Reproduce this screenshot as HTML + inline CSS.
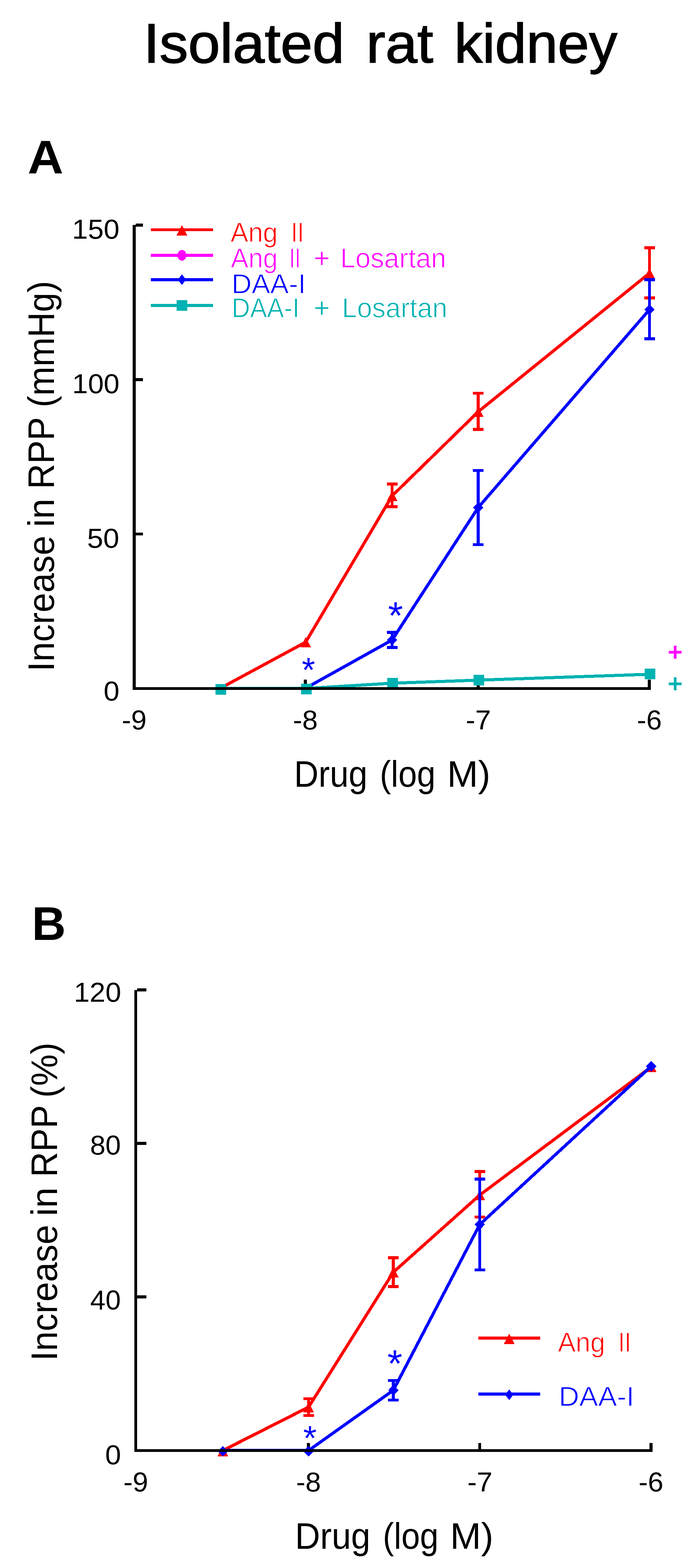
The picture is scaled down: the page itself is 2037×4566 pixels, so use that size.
<!DOCTYPE html>
<html><head><meta charset="utf-8"><title>Isolated rat kidney</title>
<style>
html,body{margin:0;padding:0;background:#fff;}
svg{display:block;}
text{font-family:'Liberation Sans', Arial, sans-serif;}
</style></head>
<body>
<svg width="2037" height="4566" viewBox="0 0 2037 4566" shape-rendering="crispEdges">
<rect width="2037" height="4566" fill="#fff"/>
<g stroke="#000" stroke-width="2.5">
<text x="417.7" y="182.0" font-size="161" font-weight="400" fill="#000" textLength="584.4" lengthAdjust="spacingAndGlyphs">Isolated</text>
<text x="1065.8" y="182.0" font-size="161" font-weight="400" fill="#000" textLength="194.9" lengthAdjust="spacingAndGlyphs">rat</text>
<text x="1322.0" y="182.0" font-size="161" font-weight="400" fill="#000" textLength="474.2" lengthAdjust="spacingAndGlyphs">kidney</text>
</g>
<text x="80.4" y="505.3" font-size="138" font-weight="700" fill="#000" textLength="104.1" lengthAdjust="spacingAndGlyphs">A</text>
<text x="92.8" y="2736.6" font-size="138" font-weight="700" fill="#000" textLength="98.9" lengthAdjust="spacingAndGlyphs">B</text>
<g id="panelA">
<g id="ticksA">
<rect x="394.8" y="2000.5" width="21.5" height="8.6" fill="#000"/>
<rect x="394.8" y="1550.8" width="21.5" height="8.6" fill="#000"/>
<rect x="394.8" y="1101.0" width="21.5" height="8.6" fill="#000"/>
<rect x="394.8" y="651.3" width="21.5" height="8.6" fill="#000"/>
<rect x="386.2" y="1978.5" width="8.6" height="22.0" fill="#000"/>
<rect x="884.2" y="1978.5" width="8.6" height="22.0" fill="#000"/>
<rect x="1387.2" y="1978.5" width="8.6" height="22.0" fill="#000"/>
<rect x="1885.3" y="1978.5" width="8.6" height="22.0" fill="#000"/>
</g>
<g stroke="#FF0000" stroke-linecap="round"><line x1="641.5" y1="2004.0" x2="889.5" y2="1870.0" stroke-width="9.00"/><line x1="889.5" y1="1870.0" x2="1141.0" y2="1444.0" stroke-width="9.00"/><line x1="1141.0" y1="1444.0" x2="1391.5" y2="1199.0" stroke-width="9.00"/><line x1="1391.5" y1="1199.0" x2="1890.0" y2="795.5" stroke-width="9.00"/></g>
<rect x="1136.7" y="1405.2" width="8.6" height="74.7" fill="#FF0000"/>
<rect x="1125.5" y="1405.2" width="31" height="8.6" fill="#FF0000"/>
<rect x="1125.5" y="1471.3" width="31" height="8.6" fill="#FF0000"/>
<rect x="1387.2" y="1140.7" width="8.6" height="114.3" fill="#FF0000"/>
<rect x="1376.0" y="1140.7" width="31" height="8.6" fill="#FF0000"/>
<rect x="1376.0" y="1246.4" width="31" height="8.6" fill="#FF0000"/>
<rect x="1885.7" y="717.3" width="8.6" height="154.3" fill="#FF0000"/>
<rect x="1874.5" y="717.3" width="31" height="8.6" fill="#FF0000"/>
<rect x="1874.5" y="863.0" width="31" height="8.6" fill="#FF0000"/>
<polygon points="889.5,1855.0 905.0,1885.0 874.0,1885.0" fill="#FF0000"/>
<polygon points="1141.0,1429.0 1156.5,1459.0 1125.5,1459.0" fill="#FF0000"/>
<polygon points="1391.5,1184.0 1407.0,1214.0 1376.0,1214.0" fill="#FF0000"/>
<polygon points="1890.0,780.5 1905.5,810.5 1874.5,810.5" fill="#FF0000"/>
<g stroke="#0000FF" stroke-linecap="round"><line x1="889.5" y1="2004.0" x2="1141.0" y2="1863.7" stroke-width="9.00"/><line x1="1141.0" y1="1863.7" x2="1391.5" y2="1478.0" stroke-width="9.00"/><line x1="1391.5" y1="1478.0" x2="1890.0" y2="901.5" stroke-width="9.00"/></g>
<rect x="1136.7" y="1837.4" width="8.6" height="52.5" fill="#0000FF"/>
<rect x="1125.5" y="1837.4" width="31" height="8.6" fill="#0000FF"/>
<rect x="1125.5" y="1881.3" width="31" height="8.6" fill="#0000FF"/>
<rect x="1387.2" y="1365.7" width="8.6" height="224.5" fill="#0000FF"/>
<rect x="1376.0" y="1365.7" width="31" height="8.6" fill="#0000FF"/>
<rect x="1376.0" y="1581.6" width="31" height="8.6" fill="#0000FF"/>
<rect x="1885.7" y="810.2" width="8.6" height="180.5" fill="#0000FF"/>
<rect x="1874.5" y="810.2" width="31" height="8.6" fill="#0000FF"/>
<rect x="1874.5" y="982.1" width="31" height="8.6" fill="#0000FF"/>
<polygon points="1141.0,1848.2 1156.0,1863.7 1141.0,1879.2 1126.0,1863.7" fill="#0000FF"/>
<polygon points="1391.5,1462.5 1406.5,1478.0 1391.5,1493.5 1376.5,1478.0" fill="#0000FF"/>
<polygon points="1890.0,886.0 1905.0,901.5 1890.0,917.0 1875.0,901.5" fill="#0000FF"/>
<g stroke="#00B2B2" stroke-linecap="round"><line x1="641.5" y1="2004.8" x2="889.5" y2="2004.8" stroke-width="9.00"/><line x1="889.5" y1="2004.8" x2="1141.0" y2="1989.5" stroke-width="9.00"/><line x1="1141.0" y1="1989.5" x2="1391.5" y2="1980.6" stroke-width="9.00"/><line x1="1391.5" y1="1980.6" x2="1890.0" y2="1963.5" stroke-width="9.00"/></g>
<rect x="626.5" y="1991.7" width="31" height="31" fill="#00B2B2"/>
<rect x="875.5" y="1991.3" width="31" height="31" fill="#00B2B2"/>
<rect x="1126.9" y="1974.0" width="31" height="31" fill="#00B2B2"/>
<rect x="1378.2" y="1965.1" width="31" height="31" fill="#00B2B2"/>
<rect x="1876.1" y="1947.3" width="31" height="31" fill="#00B2B2"/>
<rect x="386.2" y="655.4" width="8.6" height="1353.7" fill="#000"/>
<rect x="386.2" y="2000.5" width="1507.8" height="8.6" fill="#000"/>
<text x="209.8" y="695.3" font-size="80" font-weight="400" fill="#000" textLength="137.8" lengthAdjust="spacingAndGlyphs">150</text>
<text x="210.0" y="1145.0" font-size="80" font-weight="400" fill="#000" textLength="137.8" lengthAdjust="spacingAndGlyphs">100</text>
<text x="253.5" y="1594.7" font-size="80" font-weight="400" fill="#000" textLength="93.6" lengthAdjust="spacingAndGlyphs">50</text>
<text x="301.5" y="2040.0" font-size="80" font-weight="400" fill="#000" textLength="46.1" lengthAdjust="spacingAndGlyphs">0</text>
<text x="354.5" y="2123.6" font-size="80" font-weight="400" fill="#000" textLength="72.2" lengthAdjust="spacingAndGlyphs">-9</text>
<text x="852.5" y="2123.6" font-size="80" font-weight="400" fill="#000" textLength="72.2" lengthAdjust="spacingAndGlyphs">-8</text>
<text x="1355.4" y="2123.6" font-size="80" font-weight="400" fill="#000" textLength="73.3" lengthAdjust="spacingAndGlyphs">-7</text>
<text x="1853.6" y="2123.6" font-size="80" font-weight="400" fill="#000" textLength="72.2" lengthAdjust="spacingAndGlyphs">-6</text>
<text x="855.7" y="2291.0" font-size="107" font-weight="400" fill="#000" textLength="213.6" lengthAdjust="spacingAndGlyphs">Drug</text>
<text x="1105.2" y="2291.0" font-size="107" font-weight="400" fill="#000" textLength="162.2" lengthAdjust="spacingAndGlyphs">(log</text>
<text x="1300.9" y="2291.0" font-size="107" font-weight="400" fill="#000" textLength="126.3" lengthAdjust="spacingAndGlyphs">M)</text>
<text transform="translate(157.0,0) rotate(-90)" x="-1955.4" y="0" font-size="107" font-weight="400" fill="#000" textLength="395.7" lengthAdjust="spacingAndGlyphs">Increase</text>
<text transform="translate(157.0,0) rotate(-90)" x="-1535.1" y="0" font-size="107" font-weight="400" fill="#000" textLength="83.1" lengthAdjust="spacingAndGlyphs">in</text>
<text transform="translate(157.0,0) rotate(-90)" x="-1424.1" y="0" font-size="107" font-weight="400" fill="#000" textLength="209.7" lengthAdjust="spacingAndGlyphs">RPP</text>
<text transform="translate(157.0,0) rotate(-90)" x="-1186.2" y="0" font-size="107" font-weight="400" fill="#000" textLength="368.1" lengthAdjust="spacingAndGlyphs">(mmHg)</text>
<rect x="439" y="664.8" width="180.7" height="8.4" fill="#FF0000"/>
<polygon points="529.4,655.5 544.9,685.5 513.9,685.5" fill="#FF0000"/>
<rect x="439" y="739.3" width="180.7" height="8.4" fill="#FF00FF"/>
<ellipse cx="529.4" cy="743.5" rx="13" ry="15.5" fill="#FF00FF"/>
<rect x="439" y="810.2" width="180.7" height="8.4" fill="#0000FF"/>
<polygon points="529.4,798.9 541.4,814.4 529.4,829.9 517.4,814.4" fill="#0000FF"/>
<rect x="439" y="885.2" width="180.7" height="8.4" fill="#00B2B2"/>
<rect x="513.9" y="873.9" width="31" height="31" fill="#00B2B2"/>
<text x="671.0" y="703.7" font-size="80" font-weight="400" fill="#FF0000" textLength="137.1" lengthAdjust="spacingAndGlyphs" stroke="#fff" stroke-width="1.6">Ang</text>
<text x="847.2" y="703.7" font-size="80" font-weight="400" fill="#FF0000" textLength="37.1" lengthAdjust="spacingAndGlyphs" stroke="#fff" stroke-width="1.6">II</text>
<text x="671.8" y="778.6" font-size="80" font-weight="400" fill="#FF00FF" textLength="136.3" lengthAdjust="spacingAndGlyphs" stroke="#fff" stroke-width="1.6">Ang</text>
<text x="841.9" y="778.6" font-size="80" font-weight="400" fill="#FF00FF" textLength="32.6" lengthAdjust="spacingAndGlyphs" stroke="#fff" stroke-width="1.6">II</text>
<text x="913.0" y="778.6" font-size="80" font-weight="400" fill="#FF00FF" stroke="#fff" stroke-width="0.8">+</text>
<text x="990.2" y="778.6" font-size="80" font-weight="400" fill="#FF00FF" textLength="308.1" lengthAdjust="spacingAndGlyphs" stroke="#fff" stroke-width="1.6">Losartan</text>
<text x="673.7" y="853.5" font-size="80" font-weight="400" fill="#0000FF" textLength="216.3" lengthAdjust="spacingAndGlyphs" stroke="#fff" stroke-width="1.6">DAA-I</text>
<text x="674.2" y="924.1" font-size="80" font-weight="400" fill="#00B2B2" textLength="197.4" lengthAdjust="spacingAndGlyphs" stroke="#fff" stroke-width="1.6">DAA-I</text>
<text x="913.0" y="924.1" font-size="80" font-weight="400" fill="#00B2B2" stroke="#fff" stroke-width="0.8">+</text>
<text x="995.1" y="924.1" font-size="80" font-weight="400" fill="#00B2B2" textLength="306.8" lengthAdjust="spacingAndGlyphs" stroke="#fff" stroke-width="1.6">Losartan</text>
<text x="1151.0" y="1830.7" font-size="112" fill="#0000FF" text-anchor="middle">*</text>
<text x="897.7" y="1985.2" font-size="100" fill="#0000FF" text-anchor="middle">*</text>
<text x="1964.8" y="1923.0" font-size="72" fill="#FF00FF" text-anchor="middle" stroke="#FF00FF" stroke-width="2.5">+</text>
<text x="1964.8" y="2015.3" font-size="72" fill="#00B2B2" text-anchor="middle" stroke="#00B2B2" stroke-width="2.5">+</text>
</g>
<g id="panelB">
<g id="ticksB">
<rect x="399.3" y="4219.5" width="26.4" height="8.6" fill="#000"/>
<rect x="399.3" y="3772.3" width="26.4" height="8.6" fill="#000"/>
<rect x="399.3" y="3325.1" width="26.4" height="8.6" fill="#000"/>
<rect x="399.3" y="2877.9" width="26.4" height="8.6" fill="#000"/>
<rect x="390.7" y="4201.5" width="8.6" height="18.0" fill="#000"/>
<rect x="893.4" y="4201.5" width="8.6" height="18.0" fill="#000"/>
<rect x="1391.7" y="4201.5" width="8.6" height="18.0" fill="#000"/>
<rect x="1889.9" y="4201.5" width="8.6" height="18.0" fill="#000"/>
</g>
<g stroke="#FF0000" stroke-linecap="round"><line x1="648.5" y1="4223.8" x2="898.0" y2="4097.5" stroke-width="9.00"/><line x1="898.0" y1="4097.5" x2="1144.6" y2="3704.6" stroke-width="9.00"/><line x1="1144.6" y1="3704.6" x2="1396.0" y2="3480.0" stroke-width="9.00"/><line x1="1396.0" y1="3480.0" x2="1895.0" y2="3107.0" stroke-width="9.00"/></g>
<rect x="893.7" y="4068.7" width="8.6" height="57.6" fill="#FF0000"/>
<rect x="882.5" y="4068.7" width="31" height="8.6" fill="#FF0000"/>
<rect x="882.5" y="4117.7" width="31" height="8.6" fill="#FF0000"/>
<rect x="1140.3" y="3658.3" width="8.6" height="92.7" fill="#FF0000"/>
<rect x="1129.1" y="3658.3" width="31" height="8.6" fill="#FF0000"/>
<rect x="1129.1" y="3742.4" width="31" height="8.6" fill="#FF0000"/>
<rect x="1391.7" y="3407.1" width="8.6" height="141.1" fill="#FF0000"/>
<rect x="1380.5" y="3407.1" width="31" height="8.6" fill="#FF0000"/>
<rect x="1380.5" y="3539.6" width="31" height="8.6" fill="#FF0000"/>
<polygon points="648.5,4211.0 664.0,4241.0 633.0,4241.0" fill="#FF0000"/>
<polygon points="898.0,4082.5 913.5,4112.5 882.5,4112.5" fill="#FF0000"/>
<polygon points="1144.6,3689.6 1160.1,3719.6 1129.1,3719.6" fill="#FF0000"/>
<polygon points="1396.0,3465.0 1411.5,3495.0 1380.5,3495.0" fill="#FF0000"/>
<polygon points="1895.0,3092.0 1910.5,3122.0 1879.5,3122.0" fill="#FF0000"/>
<g stroke="#0000FF" stroke-linecap="round"><line x1="648.5" y1="4223.8" x2="898.0" y2="4223.8" stroke-width="9.00"/><line x1="898.0" y1="4223.8" x2="1144.6" y2="4048.5" stroke-width="9.00"/><line x1="1144.6" y1="4048.5" x2="1396.0" y2="3565.8" stroke-width="9.00"/><line x1="1396.0" y1="3565.8" x2="1895.0" y2="3105.0" stroke-width="9.00"/></g>
<rect x="1140.3" y="4015.7" width="8.6" height="65.6" fill="#0000FF"/>
<rect x="1129.1" y="4015.7" width="31" height="8.6" fill="#0000FF"/>
<rect x="1129.1" y="4072.7" width="31" height="8.6" fill="#0000FF"/>
<rect x="1391.7" y="3429.2" width="8.6" height="273.1" fill="#0000FF"/>
<rect x="1380.5" y="3429.2" width="31" height="8.6" fill="#0000FF"/>
<rect x="1380.5" y="3693.7" width="31" height="8.6" fill="#0000FF"/>
<polygon points="648.5,4210.5 663.5,4226.0 648.5,4241.5 633.5,4226.0" fill="#0000FF"/>
<polygon points="898.0,4210.5 913.0,4226.0 898.0,4241.5 883.0,4226.0" fill="#0000FF"/>
<polygon points="1144.6,4033.0 1159.6,4048.5 1144.6,4064.0 1129.6,4048.5" fill="#0000FF"/>
<polygon points="1396.0,3550.3 1411.0,3565.8 1396.0,3581.3 1381.0,3565.8" fill="#0000FF"/>
<polygon points="1895.0,3089.5 1910.0,3105.0 1895.0,3120.5 1880.0,3105.0" fill="#0000FF"/>
<rect x="390.7" y="2882.7" width="8.6" height="1345.4" fill="#000"/>
<rect x="390.7" y="4219.5" width="1508.0" height="8.6" fill="#000"/>
<text x="215.0" y="2917.0" font-size="80" font-weight="400" fill="#000" textLength="137.6" lengthAdjust="spacingAndGlyphs">120</text>
<text x="261.9" y="3362.3" font-size="80" font-weight="400" fill="#000" textLength="89.8" lengthAdjust="spacingAndGlyphs">80</text>
<text x="262.5" y="3812.9" font-size="80" font-weight="400" fill="#000" textLength="89.1" lengthAdjust="spacingAndGlyphs">40</text>
<text x="305.9" y="4263.6" font-size="80" font-weight="400" fill="#000" textLength="46.3" lengthAdjust="spacingAndGlyphs">0</text>
<text x="359.0" y="4342.5" font-size="80" font-weight="400" fill="#000" textLength="72.2" lengthAdjust="spacingAndGlyphs">-9</text>
<text x="861.7" y="4342.5" font-size="80" font-weight="400" fill="#000" textLength="72.2" lengthAdjust="spacingAndGlyphs">-8</text>
<text x="1359.9" y="4342.5" font-size="80" font-weight="400" fill="#000" textLength="73.3" lengthAdjust="spacingAndGlyphs">-7</text>
<text x="1858.2" y="4342.5" font-size="80" font-weight="400" fill="#000" textLength="72.2" lengthAdjust="spacingAndGlyphs">-6</text>
<text x="858.5" y="4510.0" font-size="107" font-weight="400" fill="#000" textLength="219.4" lengthAdjust="spacingAndGlyphs">Drug</text>
<text x="1113.9" y="4510.0" font-size="107" font-weight="400" fill="#000" textLength="162.3" lengthAdjust="spacingAndGlyphs">(log</text>
<text x="1309.7" y="4510.0" font-size="107" font-weight="400" fill="#000" textLength="126.2" lengthAdjust="spacingAndGlyphs">M)</text>
<text transform="translate(166.0,0) rotate(-90)" x="-3962.9" y="0" font-size="107" font-weight="400" fill="#000" textLength="396.4" lengthAdjust="spacingAndGlyphs">Increase</text>
<text transform="translate(166.0,0) rotate(-90)" x="-3541.5" y="0" font-size="107" font-weight="400" fill="#000" textLength="84.1" lengthAdjust="spacingAndGlyphs">in</text>
<text transform="translate(166.0,0) rotate(-90)" x="-3427.8" y="0" font-size="107" font-weight="400" fill="#000" textLength="209.9" lengthAdjust="spacingAndGlyphs">RPP</text>
<text transform="translate(166.0,0) rotate(-90)" x="-3196.8" y="0" font-size="107" font-weight="400" fill="#000" textLength="161.1" lengthAdjust="spacingAndGlyphs">(%)</text>
<rect x="1391.8" y="3892.2" width="180.5" height="8.6" fill="#FF0000"/>
<polygon points="1481.8,3883.7 1497.3,3913.7 1466.3,3913.7" fill="#FF0000"/>
<rect x="1391.8" y="4055.4" width="180.5" height="8.6" fill="#0000FF"/>
<polygon points="1481.8,4046.0 1493.8,4061.5 1481.8,4077.0 1469.8,4061.5" fill="#0000FF"/>
<text x="1623.5" y="3935.7" font-size="80" font-weight="400" fill="#FF0000" textLength="137.6" lengthAdjust="spacingAndGlyphs" stroke="#fff" stroke-width="1.6">Ang</text>
<text x="1799.2" y="3935.7" font-size="80" font-weight="400" fill="#FF0000" textLength="37.1" lengthAdjust="spacingAndGlyphs" stroke="#fff" stroke-width="1.6">II</text>
<text x="1626.0" y="4093.7" font-size="80" font-weight="400" fill="#0000FF" textLength="219.6" lengthAdjust="spacingAndGlyphs" stroke="#fff" stroke-width="1.6">DAA-I</text>
<text x="1149.0" y="4009.2" font-size="112" fill="#0000FF" text-anchor="middle">*</text>
<text x="902.0" y="4221.9" font-size="100" fill="#0000FF" text-anchor="middle">*</text>
</g>
</svg>
</body></html>
